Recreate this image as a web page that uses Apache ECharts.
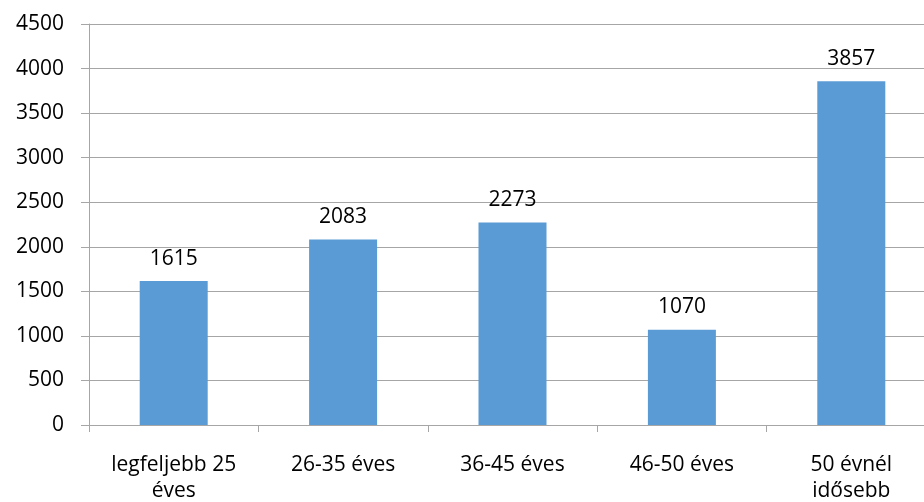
<!DOCTYPE html>
<html>
<head>
<meta charset="utf-8">
<script src="https://cdn.jsdelivr.net/npm/echarts@6/dist/echarts.min.js"></script>
<style>
  html, body { margin: 0; padding: 0; background: #fff; }
  #chart { width: 924px; height: 502px; }
</style>
</head>
<body>
<div id="chart"></div>
<script>
// age groups and counts
const categories = ["legfeljebb 25\néves", "26-35 éves", "36-45 éves", "46-50 éves", "50 évnél\nidősebb"];
const values = [1615, 2083, 2273, 1070, 3857];
const yTicks = [0, 500, 1000, 1500, 2000, 2500, 3000, 3500, 4000, 4500];

const font = "'Open Sans', 'Noto Sans', sans-serif";
const chart = echarts.init(document.getElementById("chart"));
chart.setOption({
  animation: false,
  // plot runs a bit past the right edge, like the original
  grid: { left: 89, right: -12, top: 24, bottom: 77, containLabel: false, outerBoundsMode: "none" },
  xAxis: {
    type: "category",
    data: categories,
    axisLine: { lineStyle: { color: "#a6a6a6", width: 1 } },
    axisTick: { show: true, length: 7, lineStyle: { color: "#a6a6a6" } },
    axisLabel: {
      color: "#000", fontFamily: font, fontSize: 21, margin: 27,
      lineHeight: 26, interval: 0
    }
  },
  yAxis: {
    type: "value",
    min: yTicks[0],
    max: yTicks[yTicks.length - 1],
    interval: 500,
    axisLine: { show: true, lineStyle: { color: "#a6a6a6", width: 1 } },
    axisTick: { show: true, length: 8, lineStyle: { color: "#a6a6a6" } },
    splitLine: { lineStyle: { color: "#a6a6a6", width: 1 } },
    axisLabel: {
      color: "#000", fontFamily: font, fontSize: 21, margin: 25,
      formatter: v => String(v)
    }
  },
  series: [{
    type: "bar",
    data: values,
    barWidth: 68,
    itemStyle: { color: "#5b9bd5" },
    label: {
      show: true, position: "top", distance: 12,
      color: "#000", fontFamily: font, fontSize: 21
    }
  }]
});
</script>
</body>
</html>
